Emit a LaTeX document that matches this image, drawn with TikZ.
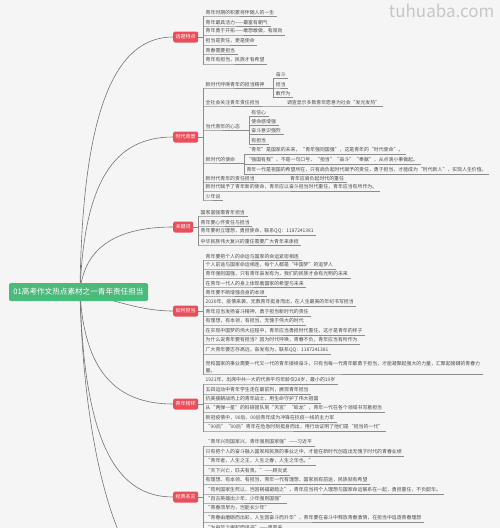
\documentclass[tikz,border=0pt]{standalone}
\usepackage{fontspec}
\setmainfont{Noto Sans CJK SC}
\definecolor{bgcol}{HTML}{F5F5F5}
\definecolor{topicred}{HTML}{E84F5A}
\definecolor{hubgreen}{HTML}{4DB97B}
\tikzset{
  hub/.style={rectangle, rounded corners=1.5pt, fill=hubgreen, text=white, font=\fontsize{7.6}{9}\selectfont, minimum width=139pt, minimum height=18pt, inner sep=2pt},
  topic/.style={rectangle, rounded corners=2pt, fill=topicred, text=white, font=\fontsize{5}{6}\selectfont, minimum height=11pt, inner xsep=2.5pt, inner ysep=1pt, anchor=west},
  leaf/.style={anchor=south west, inner xsep=2.5pt, inner ysep=1.3pt, text=black!70, font=\fontsize{4.9}{7}\selectfont, align=left},
  twig/.style={draw=black!45, line width=0.35pt},
  limb/.style={draw=black!55, line width=0.6pt}
}

\begin{document}
\begin{tikzpicture}[x=1pt, y=-1pt]
  \useasboundingbox[fill=bgcol] (0,0) rectangle (500,528);
  \clip (0,0) rectangle (500,528);
  % watermark
  \node[text=black!22, font=\fontsize{17}{20}\selectfont, anchor=north east] (mark) at (498,0) {tuhuaba.com};

  % branch topics
  \coordinate (rc) at (80,292);
  \node[topic] (b1) at (173,37) {话题特点};
  \node[topic] (b2) at (173,137) {时代背景};
  \node[topic] (b3) at (173,227) {关键词};
  \node[topic] (b4) at (173,311) {如何担当};
  \node[topic] (b5) at (173,404) {青年榜样};
  \node[topic] (b6) at (173,497) {经典名言};
  \coordinate (b7) at (173,590);

  % curves from the central topic
  \draw[limb] (rc) .. controls (82,110) and (115,37) .. (b1.west);
  \draw[limb] (rc) .. controls (84,180) and (115,137) .. (b2.west);
  \draw[limb] (rc) .. controls (84,245) and (120,227) .. (b3.west);
  \draw[limb] (rc) .. controls (115,300) and (140,311) .. (b4.west);
  \draw[limb] (rc) .. controls (84,370) and (115,404) .. (b5.west);
  \draw[limb] (rc) .. controls (84,440) and (115,497) .. (b6.west);
  \draw[limb] (rc) .. controls (84,470) and (125,590) .. (b7);
  \node[hub] (root) at (78.5,292) {01高考作文热点素材之一青年责任担当};

  % branch 1
  \foreach \y/\txt [count=\i] in {
      16/青年时期的积累将伴随人的一生,
      26/青年最具活力——最富有朝气,
      35/青年勇于开拓——敢想敢做，有闯劲,
      45/担当是责任，更是使命,
      54/青春需要担当,
      64/青年有担当，民族才有希望}
    \node[leaf] (l1\i) at (203,\y) {\txt};
  \foreach \i in {1,...,6}
    \draw[twig] (b1.east) -- ++(5,0) |- (l1\i.south west) -- (l1\i.south east);

  % branch 2
  \node[leaf] (l21) at (203,88) {新时代呼唤青年的担当精神};
  \node[leaf] (l22) at (203,106) {全社会关注青年责任担当};
  \node[leaf] (l23) at (203,130) {当代青年的心态};
  \node[leaf] (l24) at (203,163) {新时代的使命};
  \node[leaf] (l25) at (203,182) {新时代青年的责任担当};
  \node[leaf] (l26) at (203,191) {新时代赋予了青年新的使命，青年应以奋斗担当时代重任，青年应当有所作为。};
  \node[leaf] (l27) at (203,200) {少年说};
  \foreach \i in {1,...,7}
    \draw[twig] (b2.east) -- ++(5,0) |- (l2\i.south west) -- (l2\i.south east);

  \node[leaf, xshift=6pt, yshift=10pt] (l21a) at (l21.south east) {奋斗};
  \node[leaf, xshift=6pt] (l21b) at (l21.south east) {担当};
  \node[leaf, xshift=6pt, yshift=-9pt] (l21c) at (l21.south east) {敢作为};
  \node[leaf, xshift=22pt] (l22a) at (l22.south east) {调查显示多数青年愿意为社会“发光发热”};
  \node[leaf, xshift=6pt, yshift=14pt] (l23a) at (l23.south east) {有信心};
  \node[leaf, xshift=6pt, yshift=5pt] (l23b) at (l23.south east) {使命感增强};
  \node[leaf, xshift=6pt, yshift=-4pt] (l23c) at (l23.south east) {奋斗意识强烈};
  \node[leaf, xshift=6pt, yshift=-14pt] (l23d) at (l23.south east) {有担当};
  \node[leaf, xshift=6pt, yshift=9pt] (l24a) at (l24.south east) {“青年”是国家的未来，“青年强则国强”，这是青年的“时代使命”。};
  \node[leaf, xshift=6pt, yshift=-1pt] (l24b) at (l24.south east) {“强国有我”，不是一句口号，“担当”“奋斗”“奉献”，从点滴小事做起。};
  \node[leaf, xshift=6pt, yshift=-11pt] (l24c) at (l24.south east) {青年一代是祖国的希望所在，只有肩负起时代赋予的责任，勇于担当，才能成为“时代新人”，实现人生价值。};
  \node[leaf, xshift=30pt] (l25a) at (l25.south east) {青年应肩负起时代的重任};

  \foreach \s in {l21a,l21b,l21c}
    \draw[twig] (l21.south east) -- ++(6,0) |- (\s.south west) -- (\s.south east);
  \foreach \s in {l23a,l23b,l23c,l23d}
    \draw[twig] (l23.south east) -- ++(6,0) |- (\s.south west) -- (\s.south east);
  \foreach \s in {l24a,l24b,l24c}
    \draw[twig] (l24.south east) -- ++(6,0) |- (\s.south west) -- (\s.south east);
  \draw[twig] (l22.south east) -- (l22a.south west) -- (l22a.south east);
  \draw[twig] (l25.south east) -- (l25a.south west) -- (l25a.south east);

  % branch 3
  \foreach \y/\txt [count=\i] in {
      216/国家富强需青年担当,
      226/青年要心怀责任与担当,
      235/青年要树立理想，勇担使命，联系QQ：1187241381,
      245/中华民族伟大复兴的重任需要广大青年来承担}
    \node[leaf] (l3\i) at (198,\y) {\txt};
  \foreach \i in {1,...,4}
    \draw[twig] (b3.east) -- ++(5,0) |- (l3\i.south west) -- (l3\i.south east);

  % branch 4
  \foreach \y/\txt [count=\i] in {
      260/青年要把个人的命运与国家的命运紧密相连,
      269/个人前途与国家命运相连，每个人都是“中国梦”的追梦人,
      278/青年强则国强，只有青年奋发有为，我们的民族才会有光明的未来,
      287/在青年一代人的身上体现着国家的希望与未来,
      296/青年要不断增强自身的本领,
      306/2020年，疫情来袭，无数青年挺身而出，在人生最美的年纪书写担当,
      316/青年应当发扬奋斗精神，勇于担当新时代的责任,
      325/有理想，有本领，有担当，无愧于伟大的时代,
      335/在实现中国梦的伟大征程中，青年应当勇担时代重任，这才是青年的样子,
      344/为什么说青年要有担当？因为时代呼唤，青春不负，青年应当有所作为,
      354/广大青年要志存高远，奋发有为，联系QQ：1187241381}
    \node[leaf] (l4\i) at (203,\y) {\txt};
  \node[leaf] (l412) at (203,374) {党和国家的事业需要一代又一代的青年接续奋斗，只有当每一代青年都勇于担当，才能凝聚起强大的力量，汇聚起磅礴的青春力\\量。};
  \foreach \i in {1,...,12}
    \draw[twig] (b4.east) -- ++(5,0) |- (l4\i.south west) -- (l4\i.south east);

  % branch 5
  \foreach \y/\txt [count=\i] in {
      384/1921年，出席中共一大的代表平均年龄仅28岁，最小的19岁,
      394/五四运动中青年学生走在最前列，展现青年担当,
      403/抗美援朝战场上的青年战士，用生命守护了伟大祖国,
      412/从“两弹一星”的科研团队到“天宫”“蛟龙”，青年一代在各个领域书写着担当,
      422/新冠疫情中，90后、00后青年成为冲锋在抗疫一线的主力军,
      431/“90后”“00后”青年在危急时刻挺身而出，用行动证明了他们是“担当的一代”}
    \node[leaf] (l5\i) at (203,\y) {\txt};
  \foreach \i in {1,...,6}
    \draw[twig] (b5.east) -- ++(5,0) |- (l5\i.south west) -- (l5\i.south east);

  % branch 6
  \foreach \y/\txt [count=\i] in {
      446/“青年兴则国家兴，青年强则国家强”——习近平,
      456/只有把个人的奋斗融入国家和民族的事业之中，才能在新时代创造出无愧于时代的青春业绩,
      465/“青年者，人生之王，人生之春，人生之华也。”,
      475/“天下兴亡，匹夫有责。”——顾炎武,
      484/有理想、有本领、有担当，青年一代有理想，国家就有前途，民族就有希望,
      494/“苟利国家生死以，岂因祸福避趋之”，青年应当将个人理想与国家命运联系在一起，勇担重任，不负韶华。,
      503/“自古英雄出少年，少年强则国强”,
      512/“青春须早为，岂能长少年”,
      522/“青春由磨砺而出彩，人生因奋斗而升华”，青年要在奋斗中释放青春激情，在担当中追逐青春理想,
      531/“为中华之崛起而读书”——周恩来}
    \node[leaf] (l6\i) at (203,\y) {\txt};
  \foreach \i in {1,...,10}
    \draw[twig] (b6.east) -- ++(5,0) |- (l6\i.south west) -- (l6\i.south east);
\end{tikzpicture}
\end{document}
